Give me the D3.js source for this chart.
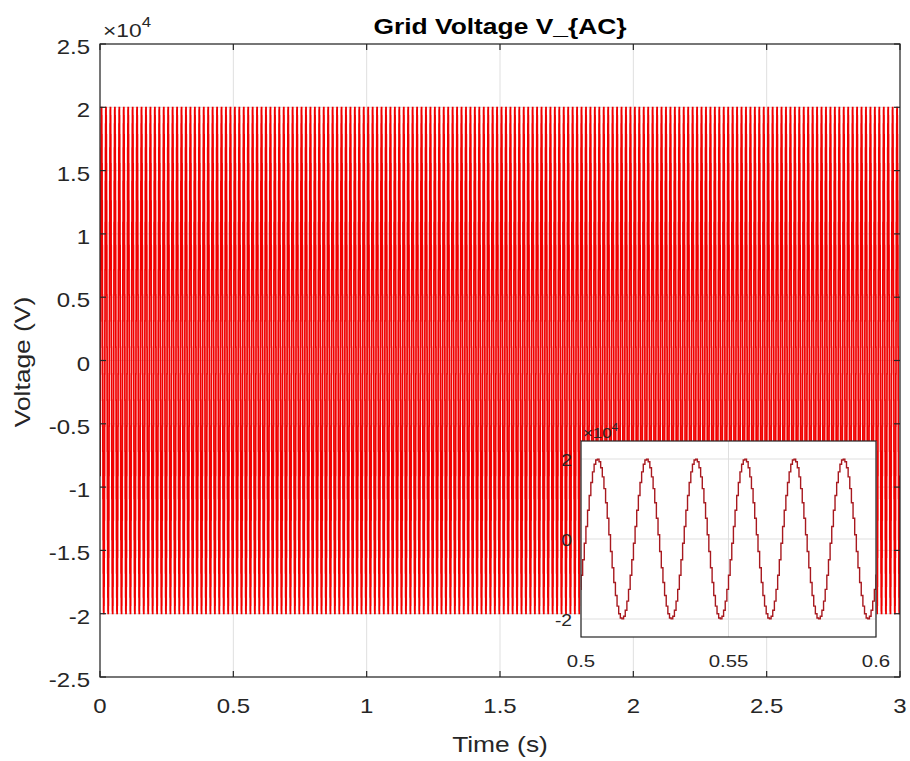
<!DOCTYPE html>
<html>
<head>
<meta charset="utf-8">
<script src="https://cdn.jsdelivr.net/npm/d3@7"></script>
<style>
  body { margin: 0; background: #fff; }
  text { font-family: "Liberation Sans", Arial, sans-serif; fill: #262626; }
</style>
</head>
<body>
<script>
// ---- data ----
var xTicks = [0, 0.5, 1, 1.5, 2, 2.5, 3];
var yTicks = [-2.5, -2, -1.5, -1, -0.5, 0, 0.5, 1, 1.5, 2, 2.5];
var insetXTicks = [0.5, 0.55, 0.6];
var insetYTicks = [-2, 0, 2];
// one 60 Hz period of the sampled (held) grid voltage, units of 1e4 V
var cycleLevels = [-0.908, -0.518, -0.105, 0.313, 0.717, 1.089, 1.414, 1.677, 1.867, 1.975,
                   1.997, 1.932, 1.782, 1.554, 1.259, 0.908, 0.518, 0.105, -0.313, -0.717,
                   -1.089, -1.414, -1.677, -1.867, -1.975, -1.997, -1.932, -1.782, -1.554, -1.259];
var gridFreq = 60;      // Hz
var simTime = 3;        // s
var expLabel = 4;       // x10^4

var width = 910, height = 761;
var axL = 100, axR = 900, axT = 44, axB = 677;
var stretch = 1.2;

// sample-and-hold series
var samples = [];
var nCycles = gridFreq * simTime;
var stepT = 1 / (gridFreq * cycleLevels.length);
for (var c = 0; c < nCycles; c++) {
    for (var k = 0; k < cycleLevels.length; k++) {
        samples.push({t: (c * cycleLevels.length + k) * stepT, v: cycleLevels[k]});
    }
}
samples.push({t: simTime, v: cycleLevels[0]});

var svg = d3.select("body").append("svg")
    .attr("width", width)
    .attr("height", height);

function label(g, x, y, s, size, anchor, extra) {
    return g.append("text")
        .attr("transform", "translate(" + x + "," + y + ")" + (extra || "") + " scale(" + stretch + ",1)")
        .attr("text-anchor", anchor || "middle")
        .style("font-size", size + "px")
        .text(s);
}

var x = d3.scaleLinear().domain([0, 3]).range([axL, axR]);
var y = d3.scaleLinear().domain([-2.5, 2.5]).range([axB, axT]);

var defs = svg.append("defs");
defs.append("clipPath").attr("id", "clipMain").append("rect")
    .attr("x", axL).attr("y", axT).attr("width", axR - axL).attr("height", axB - axT);

// grid
var grid = svg.append("g");
xTicks.forEach(function(d){
    grid.append("line").attr("x1", x(d)).attr("x2", x(d)).attr("y1", axT).attr("y2", axB)
        .attr("stroke", "#dfdfdf").attr("stroke-width", 1);
});
yTicks.forEach(function(d){
    grid.append("line").attr("y1", y(d)).attr("y2", y(d)).attr("x1", axL).attr("x2", axR)
        .attr("stroke", "#dfdfdf").attr("stroke-width", 1);
});

var lineMain = d3.line().x(function(d){ return x(d.t); }).y(function(d){ return y(d.v); })
    .curve(d3.curveStepAfter);

svg.append("path")
    .datum(samples)
    .attr("clip-path", "url(#clipMain)")
    .attr("d", lineMain)
    .attr("fill", "none")
    .attr("stroke", "#f00000")
    .attr("stroke-width", 1.7);

// axes box + ticks
var ax = svg.append("g").attr("stroke", "#262626").attr("stroke-width", 1.2);
ax.append("rect").attr("x", axL).attr("y", axT).attr("width", axR - axL).attr("height", axB - axT)
    .attr("fill", "none");
xTicks.forEach(function(d){
    ax.append("line").attr("x1", x(d)).attr("x2", x(d)).attr("y1", axB).attr("y2", axB - 6);
    ax.append("line").attr("x1", x(d)).attr("x2", x(d)).attr("y1", axT).attr("y2", axT + 6);
});
yTicks.forEach(function(d){
    ax.append("line").attr("y1", y(d)).attr("y2", y(d)).attr("x1", axL).attr("x2", axL + 6);
    ax.append("line").attr("y1", y(d)).attr("y2", y(d)).attr("x1", axR).attr("x2", axR - 6);
});

var txt = svg.append("g");
xTicks.forEach(function(d){ label(txt, x(d), axB + 36, String(d), 20); });
yTicks.forEach(function(d){ label(txt, axL - 10, y(d) + 10, String(d), 20, "end"); });
var ex = label(txt, 103, 37, "\u00d710", 19, "start");
ex.append("tspan").attr("dy", -10).style("font-size", "14px").text(expLabel);

label(txt, 500, 752, "Time (s)", 22);
label(txt, 30, 362, "Voltage (V)", 22, "middle", " rotate(-90)");
label(txt, 500, 34, "Grid Voltage V_{AC}", 22).style("font-weight", "bold").style("fill", "#000");

// ---- inset ----
var iL = 581, iR = 876, iT = 441, iB = 637;
var xi = d3.scaleLinear().domain([0.5, 0.6]).range([iL, iR]);
var yi = d3.scaleLinear().domain([-2.45, 2.45]).range([iB, iT]);

defs.append("clipPath").attr("id", "clipInset").append("rect")
    .attr("x", iL).attr("y", iT).attr("width", iR - iL).attr("height", iB - iT);

var inset = svg.append("g");
inset.append("rect").attr("x", iL).attr("y", iT).attr("width", iR - iL).attr("height", iB - iT)
    .attr("fill", "#fff");
insetXTicks.forEach(function(d){
    inset.append("line").attr("x1", xi(d)).attr("x2", xi(d)).attr("y1", iT).attr("y2", iB)
        .attr("stroke", "#dfdfdf");
});
insetYTicks.forEach(function(d){
    inset.append("line").attr("y1", yi(d)).attr("y2", yi(d)).attr("x1", iL).attr("x2", iR)
        .attr("stroke", "#dfdfdf");
});

var insetData = samples.filter(function(d){ return d.t >= 0.5 - 2 * stepT && d.t <= 0.6 + 2 * stepT; });
var lineInset = d3.line().x(function(d){ return xi(d.t); }).y(function(d){ return yi(d.v); })
    .curve(d3.curveStepAfter);
inset.append("path")
    .datum(insetData)
    .attr("clip-path", "url(#clipInset)")
    .attr("d", lineInset)
    .attr("fill", "none")
    .attr("stroke", "#a8191f")
    .attr("stroke-width", 1.4);

inset.append("rect").attr("x", iL).attr("y", iT).attr("width", iR - iL).attr("height", iB - iT)
    .attr("fill", "none").attr("stroke", "#262626").attr("stroke-width", 1.2);

insetXTicks.forEach(function(d){ label(inset, xi(d), 667, String(d), 17); });
insetYTicks.forEach(function(d){ label(inset, iL - 9, yi(d) + 7, String(d), 16, "end"); });
var ex2 = label(inset, 583, 438, "\u00d710", 14, "start");
ex2.append("tspan").attr("dy", -7).style("font-size", "10px").text(expLabel);
</script>
</body>
</html>
